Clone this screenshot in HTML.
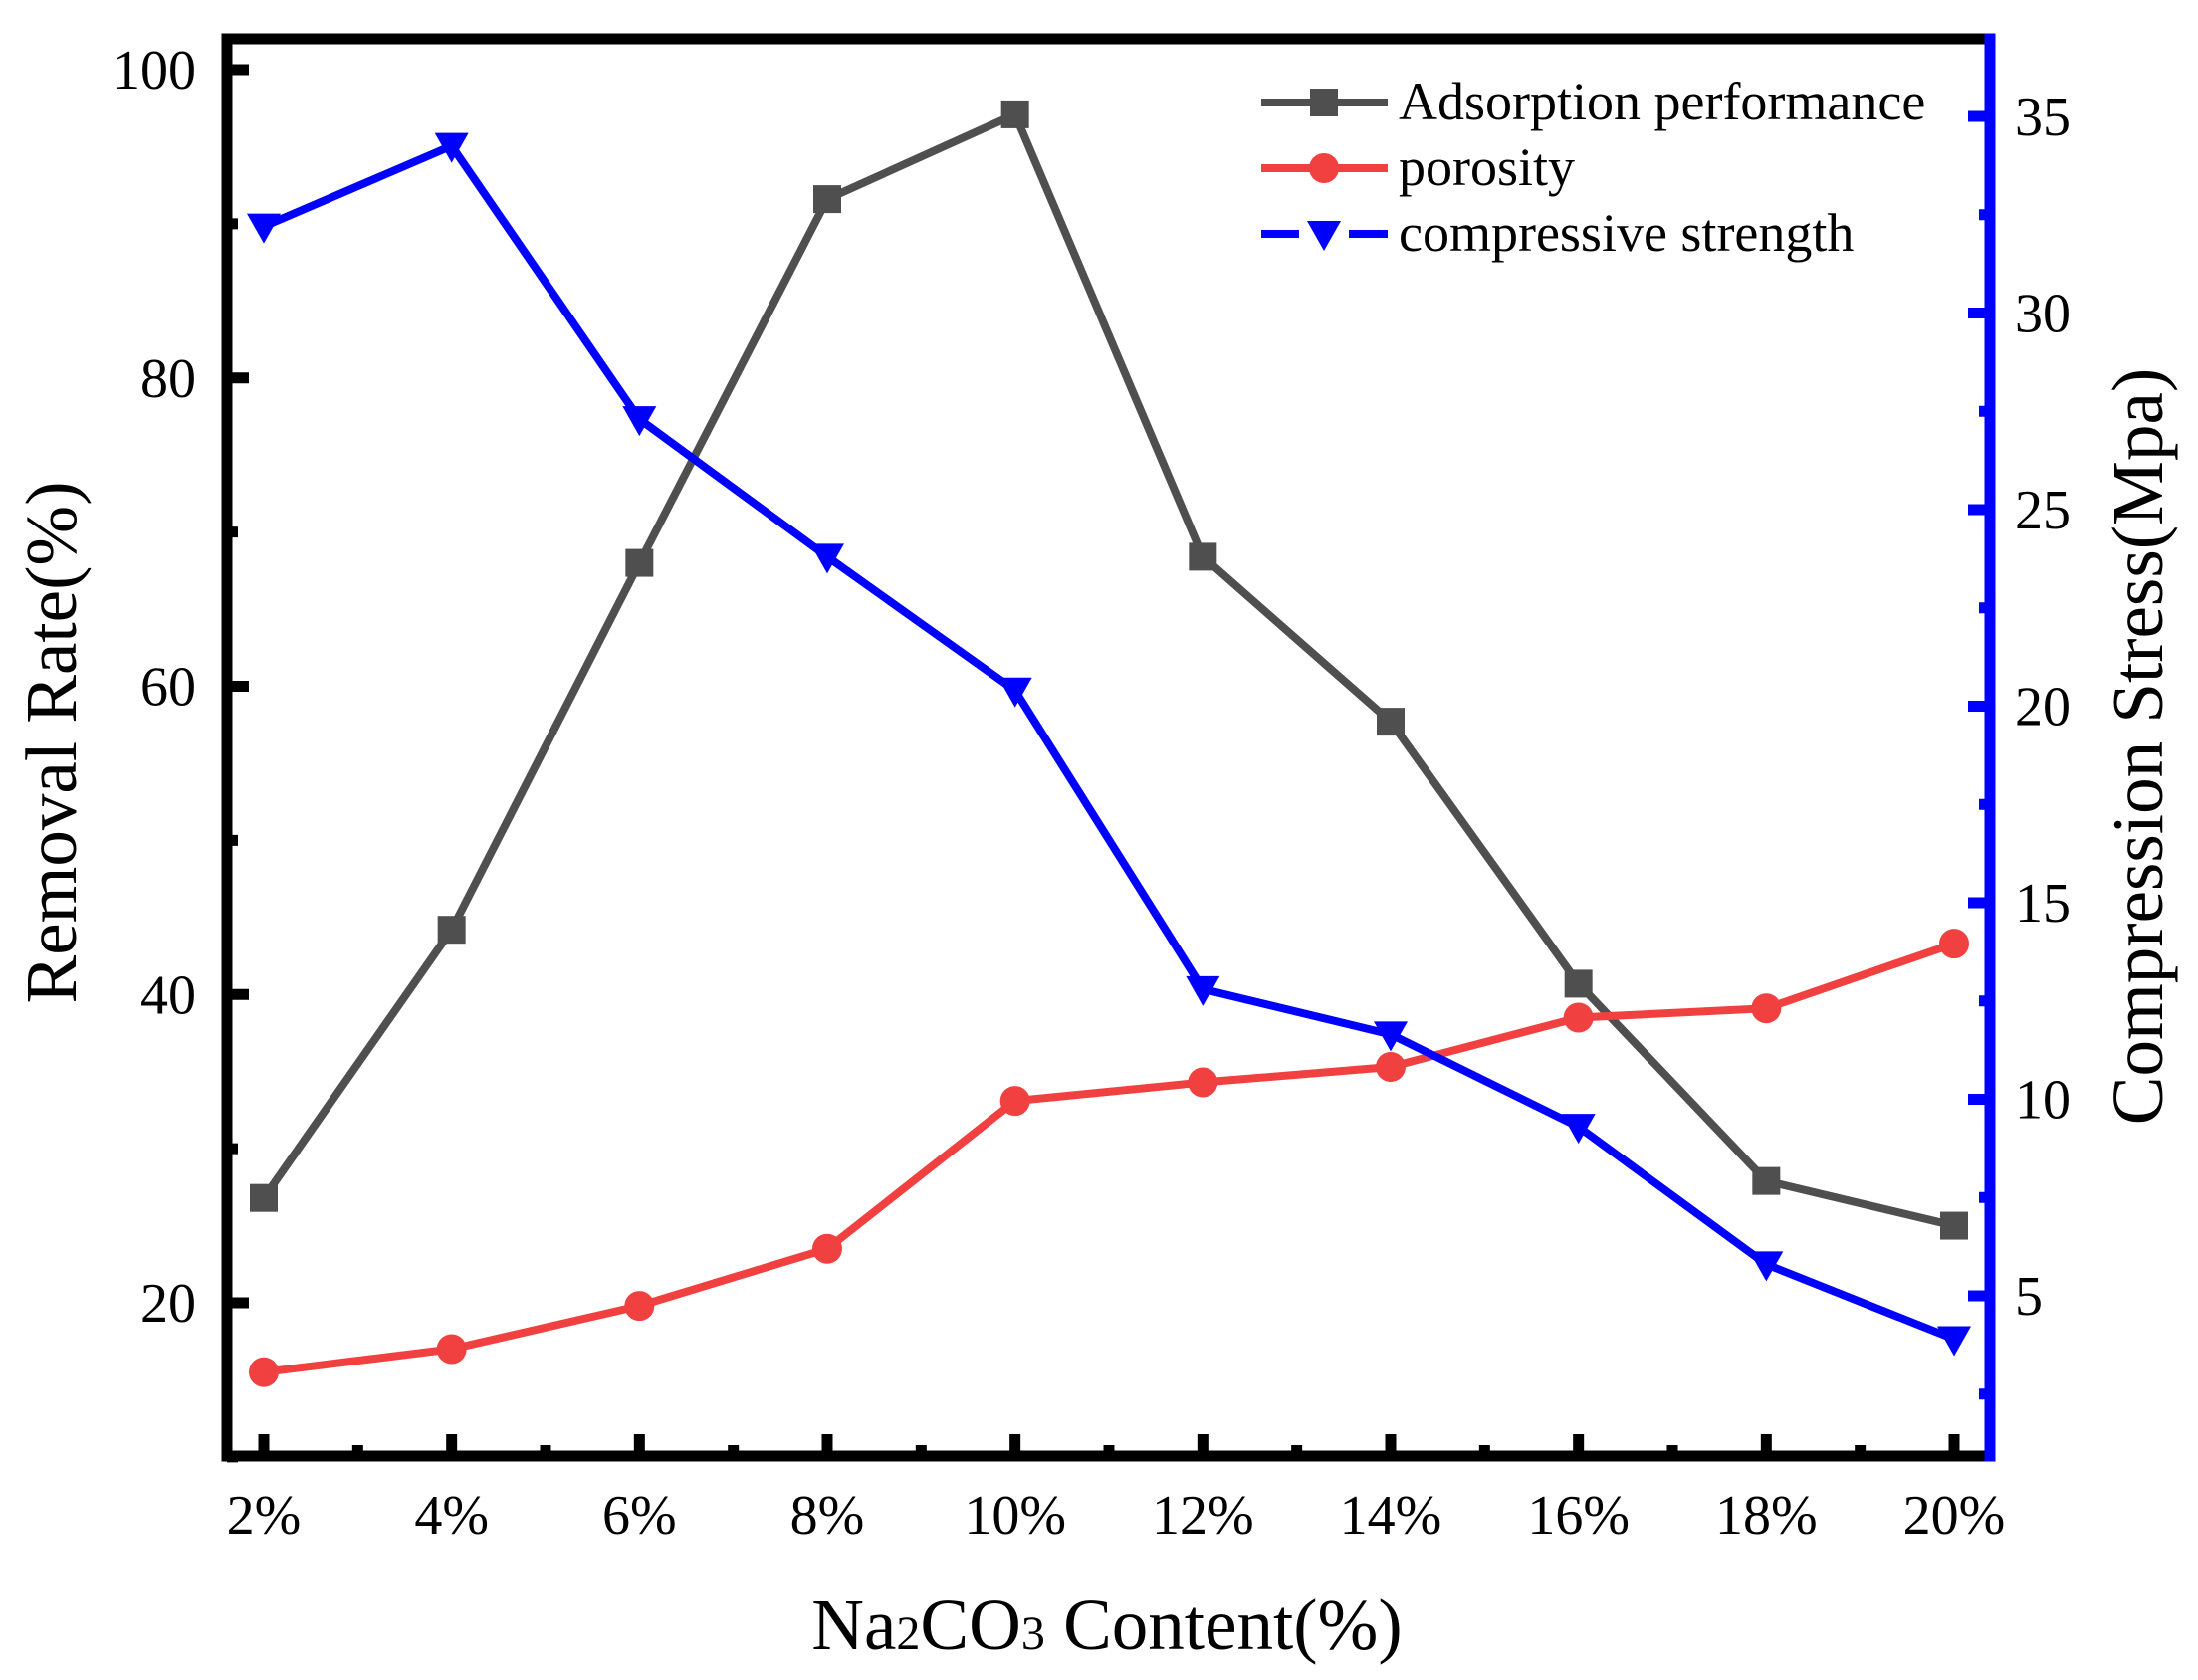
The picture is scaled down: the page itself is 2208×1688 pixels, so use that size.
<!DOCTYPE html>
<html><head><meta charset="utf-8"><style>
html,body{margin:0;padding:0;background:#fff;}
svg{display:block;font-family:"Liberation Serif",serif;}
text{font-family:"Liberation Serif",serif;}
</style></head><body>
<svg id="chart" width="2208" height="1688" viewBox="0 0 2208 1688" xmlns="http://www.w3.org/2000/svg"></svg>
<script>
const categories=["2%","4%","6%","8%","10%","12%","14%","16%","18%","20%"];
const adsorption=[26.8,44.2,68.0,91.6,97.1,68.4,57.7,40.7,27.9,25.0];
const porosity=[15.5,17.0,19.8,23.5,33.1,34.3,35.3,38.5,39.1,43.3];
const compressive=[32.2,34.25,27.3,23.8,20.4,12.8,11.65,9.3,5.8,3.9];
const leftTicks=[20,40,60,80,100];
const rightTicks=[5,10,15,20,25,30,35];

const NS="http://www.w3.org/2000/svg";
const svg=document.getElementById('chart');
const L=228,R=1999,T=39,B=1463;
const x=i=>265+i*(1963-265)/9;
const yL=v=>70+(100-v)*(1309-70)/80;
const yR=v=>117+(35-v)*(1302-117)/30;
function mk(tag,attrs,parent){const e=document.createElementNS(NS,tag);for(const k in attrs)e.setAttribute(k,attrs[k]);(parent||svg).appendChild(e);return e;}
function txt(s,attrs){const e=mk('text',attrs);e.textContent=s;return e;}

function series(vals,yf,color,name,marker){
  const g=mk('g',{});
  
  
  const pts=vals.map((v,i)=>x(i)+','+yf(v)).join(' ');
  const pl=mk('polyline',{points:pts,fill:'none',stroke:color,'stroke-width':8,'stroke-linejoin':'miter'},g);
  
  
  vals.forEach((v,i)=>{const m=marker(x(i),yf(v),g,color);
    
    });
}
const sq=(cx,cy,g,c)=>mk('rect',{x:cx-14,y:cy-14,width:28,height:28,fill:c},g);
const ci=(cx,cy,g,c)=>mk('circle',{cx:cx,cy:cy,r:15,fill:c},g);
const tri=(cx,cy,g,c)=>mk('polygon',{points:`${cx-17},${cy-13} ${cx+17},${cy-13} ${cx},${cy+17}`,fill:c},g);
series(adsorption,yL,'#4f4f4f','adsorption',sq);
series(porosity,yL,'#f04040','porosity',ci);
series(compressive,yR,'#0000ff','compressive',tri);

let a;
a=mk('line',{x1:L,y1:T-5.5,x2:L,y2:B+5.5,stroke:'#000','stroke-width':11});
a=mk('line',{x1:L-5.5,y1:T,x2:R,y2:T,stroke:'#000','stroke-width':11});
a=mk('line',{x1:L-5.5,y1:B,x2:R,y2:B,stroke:'#000','stroke-width':11});
a=mk('line',{x1:R,y1:T-5.5,x2:R,y2:B+5.5,stroke:'#0000ff','stroke-width':11});

for(let v=10;v<=100;v+=10){const maj=v%20===0;const yy=yL(v);
  mk('line',{x1:L,y1:yy,x2:L+(maj?22:11),y2:yy,stroke:'#000','stroke-width':11});}
leftTicks.forEach(v=>{const t=txt(v,{x:197,y:yL(v)+19,'font-size':56,'text-anchor':'end',fill:'#000'});
  });
for(let v=2.5;v<=35;v+=2.5){const maj=v%5===0;const yy=yR(v);
  mk('line',{x1:R,y1:yy,x2:R-(maj?22:11),y2:yy,stroke:'#0000ff','stroke-width':11});}
rightTicks.forEach(v=>{const t=txt(v,{x:2024,y:yR(v)+19,'font-size':56,'text-anchor':'start',fill:'#000'});
  });
categories.forEach((c,i)=>{mk('line',{x1:x(i),y1:B,x2:x(i),y2:B-22,stroke:'#000','stroke-width':11});
  if(i<9){const xm=(x(i)+x(i+1))/2;mk('line',{x1:xm,y1:B,x2:xm,y2:B-11,stroke:'#000','stroke-width':11});}
  const t=txt(c,{x:x(i),y:1541,'font-size':56,'text-anchor':'middle',fill:'#000'});
  });
</script>
<svg style="position:absolute;left:0;top:0" width="2208" height="1688" xmlns="http://www.w3.org/2000/svg">
<text x="0" y="0" font-size="73" text-anchor="middle" transform="translate(76,746) rotate(-90)">Removal Rate(%)</text>
<text x="0" y="0" font-size="73" text-anchor="middle" transform="translate(2172,750) rotate(-90)">Compression Stress(Mpa)</text>
<text x="1112" y="1657" font-size="73" text-anchor="middle">Na<tspan font-size="48">2</tspan>CO<tspan font-size="48">3</tspan> Content(%)</text>
<g font-size="54">
 <g>
  <line x1="1267" y1="103" x2="1394" y2="103" stroke="#4f4f4f" stroke-width="8"/>
  <rect x="1316" y="89" width="28" height="28" fill="#4f4f4f"/>
  <text x="1405" y="120">Adsorption performance</text></g>
 <g>
  <line x1="1267" y1="169" x2="1394" y2="169" stroke="#f04040" stroke-width="8"/>
  <circle cx="1330" cy="169" r="15" fill="#f04040"/>
  <text x="1405" y="186">porosity</text></g>
 <g>
  <line x1="1267" y1="235" x2="1305" y2="235" stroke="#0000ff" stroke-width="8"/>
  <line x1="1355" y1="235" x2="1394" y2="235" stroke="#0000ff" stroke-width="8"/>
  <polygon points="1313,222 1347,222 1330,252" fill="#0000ff"/>
  <text x="1405" y="252">compressive strength</text></g>
</g>
</svg>
</body></html>
